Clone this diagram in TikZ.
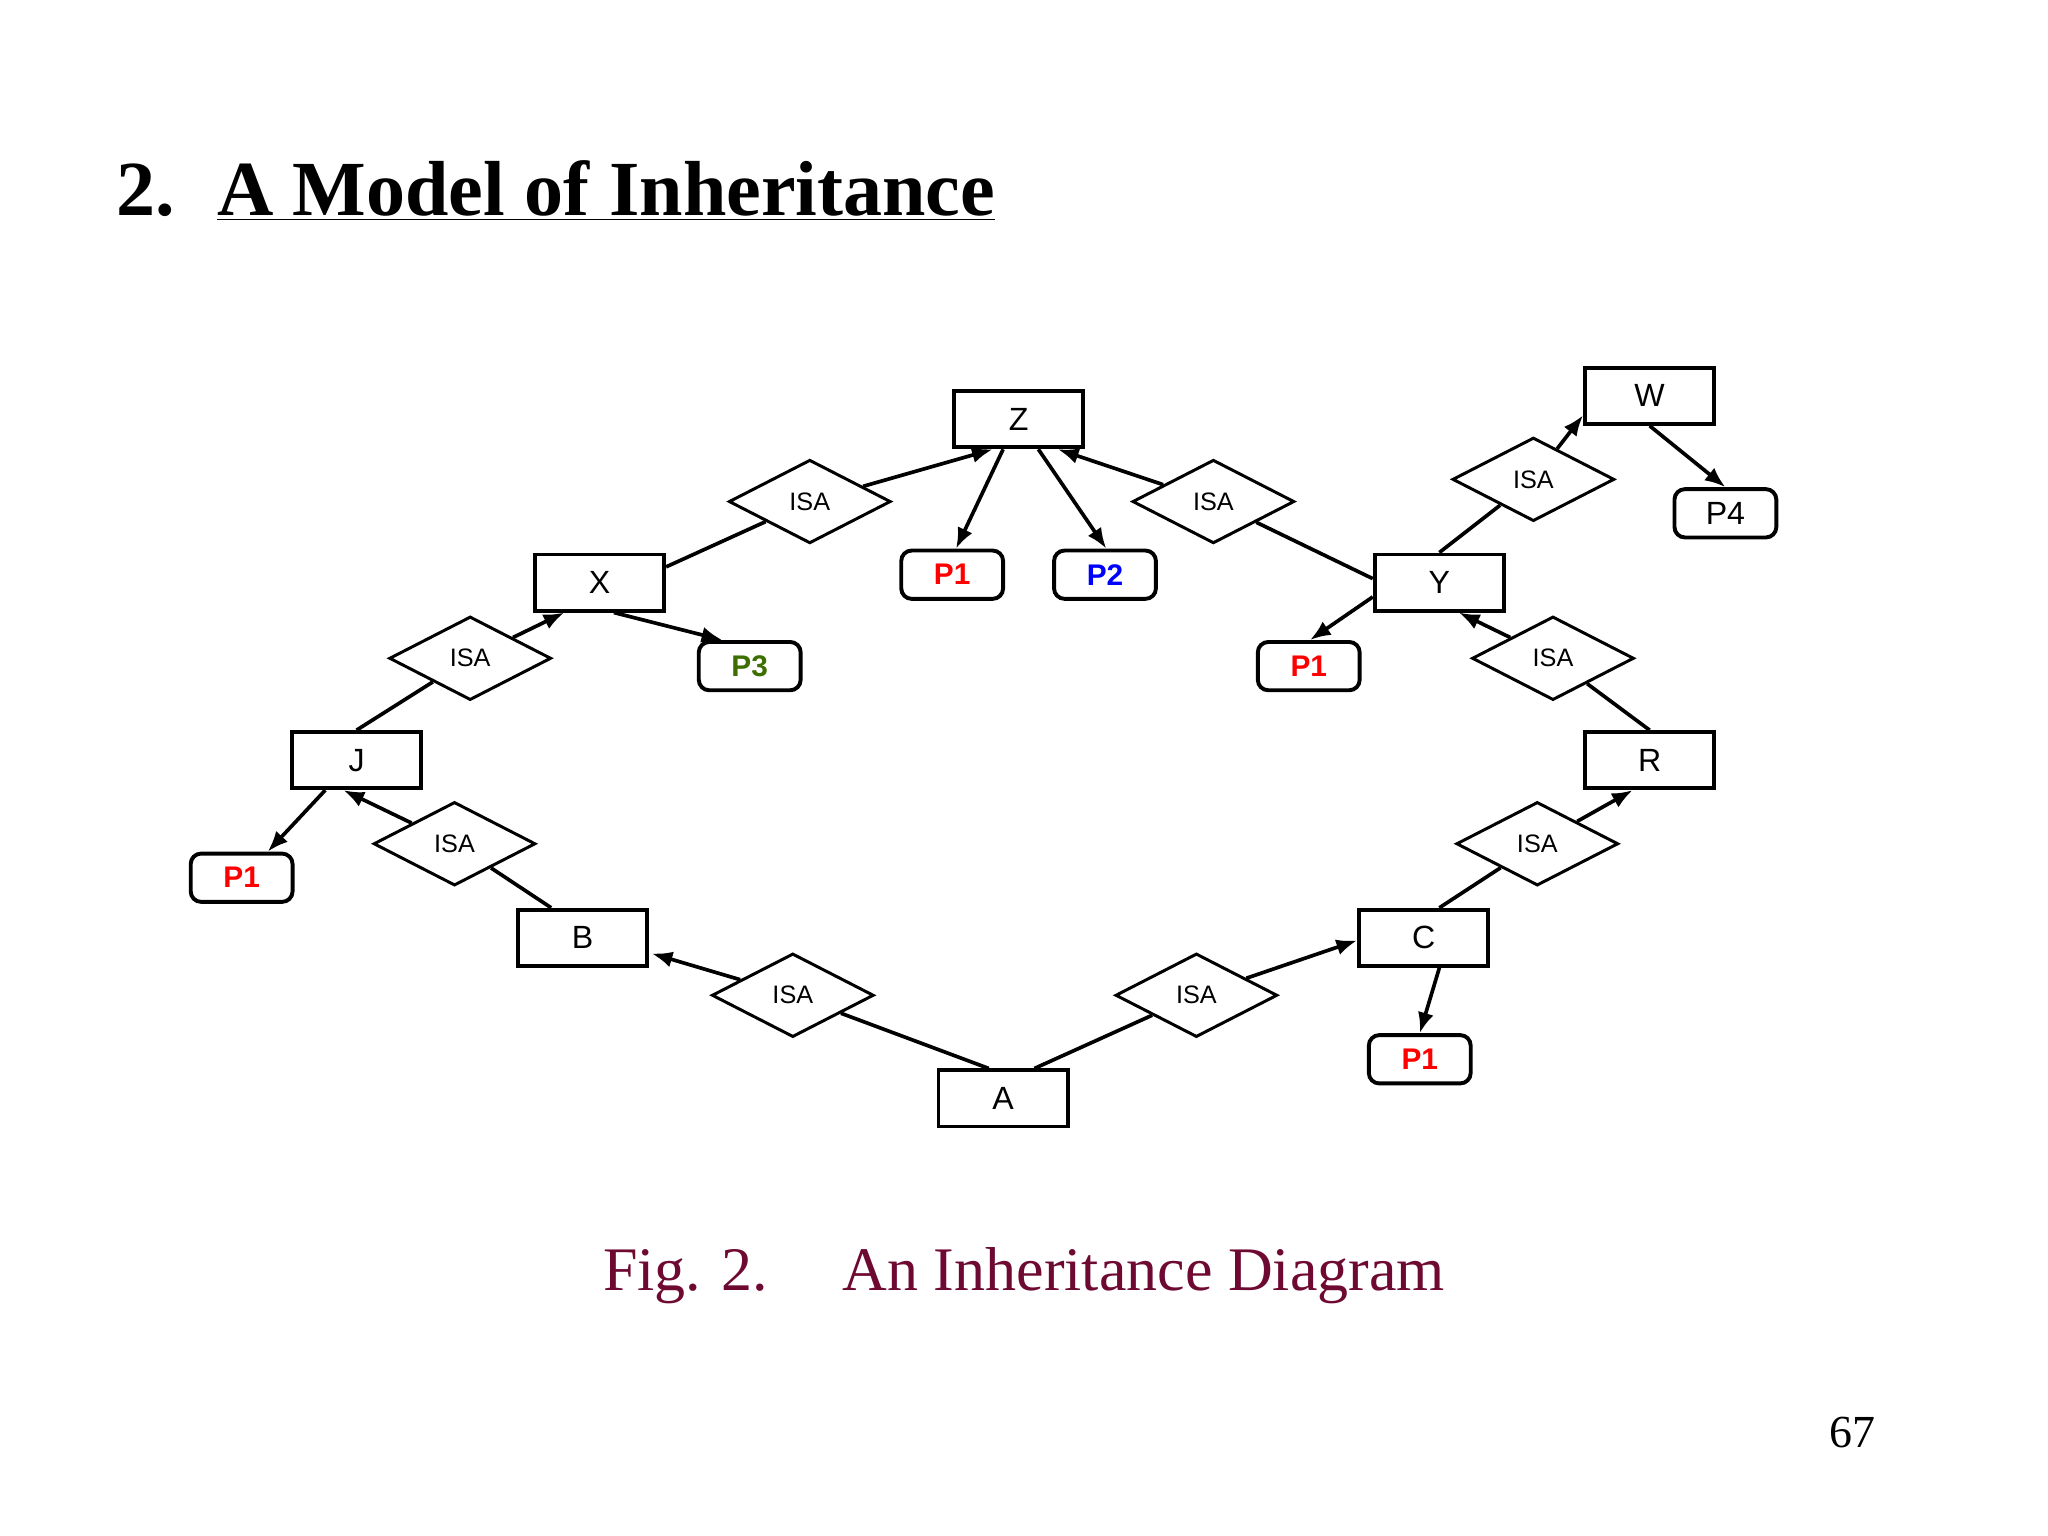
\documentclass[tikz,border=0pt]{standalone}
\usepackage{fontspec}
\setmainfont{Liberation Serif}
\newfontfamily\sansf{Liberation Sans}
\usetikzlibrary{shapes.geometric,calc,arrows.meta}
\definecolor{pgreen}{RGB}{60,110,0}
\definecolor{capcol}{RGB}{110,10,50}
\begin{document}
\begin{tikzpicture}[x=0.02cm,y=-0.02cm,
  ent/.style={draw,line width=1.7pt,minimum width=1.98cm,minimum height=0.86cm,inner sep=0pt,font=\sansf\fontsize{14}{14}\selectfont},
  prop/.style={draw,line width=1.7pt,rounded corners=0.16cm,minimum width=1.56cm,minimum height=0.74cm,inner sep=0pt,font=\sansf\bfseries\fontsize{13}{13}\selectfont},
  isa/.style={draw,diamond,line width=1.3pt,minimum width=2.48cm,minimum height=1.28cm,inner sep=0pt,font=\sansf\fontsize{11}{11}\selectfont},
  ln/.style={line width=1.6pt},
  ar/.style={line width=1.6pt,-{Latex[length=9pt,width=7pt]}}]
\useasboundingbox (0,0) rectangle (1568,1176);
% title
\node[anchor=base west,font=\bfseries\fontsize{34}{34}\selectfont] (num) at (83,165) {2.};
\node[anchor=base west,font=\bfseries\fontsize{34}{34}\selectfont] (ttl) at (160,165) {\underline{A Model of Inheritance}};
\node[font=\fontsize{27}{27}\selectfont,text=capcol,anchor=base] (cap) at (784,988) {Fig. 2.\hspace{1.2em}An Inheritance Diagram};
\node[font=\fontsize{20}{20}\selectfont,anchor=base] (pg) at (1418,1108) {67};
% entities
\node[ent] (Z) at (780,321) {Z};
\node[ent] (X) at (459,446) {X};
\node[ent] (Y) at (1102,446) {Y};
\node[ent] (W) at (1263,303) {W};
\node[ent] (J) at (273,582) {J};
\node[ent] (R) at (1263,582) {R};
\node[ent] (B) at (446,718) {B};
\node[ent] (C) at (1090,718) {C};
\node[ent] (A) at (768,841) {A};
% properties
\node[prop,text=red] (pz1) at (729,440) {P1};
\node[prop,text=blue] (pz2) at (846,440) {P2};
\node[prop,text=pgreen] (px3) at (574,510) {P3};
\node[prop,text=red] (py1) at (1002,510) {P1};
\node[prop,font=\sansf\fontsize{14}{14}\selectfont] (pw4) at (1321,393) {P4};
\node[prop,text=red] (pj1) at (185,672) {P1};
\node[prop,text=red] (pc1) at (1087,811) {P1};
% ISA
\node[isa] (d1) at (620,384) {ISA};
\node[isa] (d2) at (929,384) {ISA};
\node[isa] (d3) at (1174,367) {ISA};
\node[isa] (d4) at (360,504) {ISA};
\node[isa] (d5) at (1189,504) {ISA};
\node[isa] (d6) at (348,646) {ISA};
\node[isa] (d7) at (1177,646) {ISA};
\node[isa] (d8) at (607,762) {ISA};
\node[isa] (d9) at (916,762) {ISA};
% edges
\draw[ln] ($(X.north east)+(0,11)$) -- (d1);
\draw[ar] (d1) -- ($(Z.south)+(-20,0)$);
\draw[ln] ($(Y.north west)+(0,20)$) -- (d2);
\draw[ar] (d2) -- ($(Z.south)+(30,0)$);
\draw[ln] (Y.north) -- (d3);
\draw[ar] (d3) -- ($(W.south west)+(0,-8)$);
\draw[ln] (J.north) -- (d4);
\draw[ar] (d4) -- ($(X.south)+(-27,0)$);
\draw[ln] (R.north) -- (d5);
\draw[ar] (d5) -- ($(Y.south)+(15,0)$);
\draw[ln] ($(B.north)+(-24,0)$) -- (d6);
\draw[ar] (d6) -- ($(J.south)+(-10,0)$);
\draw[ln] ($(C.north)+(12,0)$) -- (d7);
\draw[ar] (d7) -- ($(R.south)+(-13,0)$);
\draw[ln] ($(A.north)+(-11,0)$) -- (d8);
\draw[ar] (d8) -- ($(B.east)+(2,12)$);
\draw[ln] ($(A.north)+(24,0)$) -- (d9);
\draw[ar] (d9) -- ($(C.west)+(0,2)$);
\draw[ar] ($(Z.south)+(-12,0)$) -- ($(pz1.north)+(3,0)$);
\draw[ar] ($(Z.south)+(15,0)$) -- ($(pz2.north)+(1,0)$);
\draw[ar] ($(X.south)+(11,0)$) -- ($(px3.north)+(-21,0)$);
\draw[ar] ($(Y.west)+(0,11)$) -- ($(py1.north)+(1,0)$);
\draw[ar] (W.south) -- ($(pw4.north)+(0,0)$);
\draw[ar] ($(J.south)+(-24,0)$) -- ($(pj1.north)+(20,0)$);
\draw[ar] ($(C.south)+(12,0)$) -- (pc1.north);
\end{tikzpicture}
\end{document}
